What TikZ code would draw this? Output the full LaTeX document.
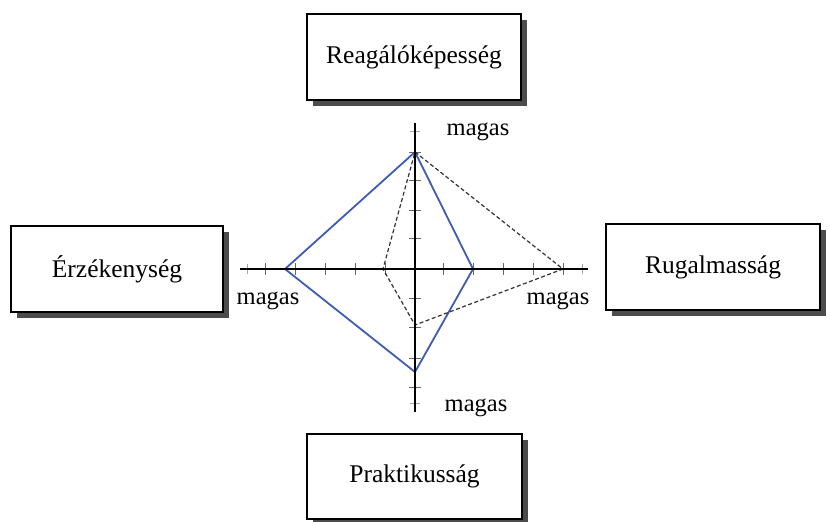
\documentclass[tikz,border=0pt]{standalone}
\usepackage{fontspec}
\setmainfont{Liberation Serif}
\usetikzlibrary{shadows}
\definecolor{profileblue}{RGB}{62,92,178}
\tikzset{
  labelbox/.style={draw=black, line width=1.3pt, fill=white, minimum width=214pt,
    minimum height=86pt, inner sep=0pt, font=\fontsize{25.5}{30}\selectfont,
    drop shadow={shadow xshift=6pt, shadow yshift=-6pt, fill=black!70, opacity=1}},
  axisline/.style={line width=2pt, black},
  tickmark/.style={line width=0.9pt, black!60},
  endtick/.style={line width=0.7pt, black!35},
  highlab/.style={font=\fontsize{24.5}{28}\selectfont, inner sep=0pt},
  bluepoly/.style={profileblue, line width=1.8pt, line join=miter},
  dashpoly/.style={black!80, line width=1.2pt, dashed, dash pattern=on 4pt off 2.5pt}
}
\begin{document}
\begin{tikzpicture}[x=1pt, y=-1pt]
\useasboundingbox[fill=white] (0,0) rectangle (830,522);

% the four dimension boxes
\node[labelbox] (top) at (414,57) {Reagálóképesség};
\node[labelbox, minimum width=212pt] (left) at (117,269) {Érzékenység};
\node[labelbox] (right) at (713,267) {Rugalmasság};
\node[labelbox, minimum width=215pt, minimum height=85pt] (bottom) at (414.5,476.5) {Praktikusság};

% axis end points and origin
\coordinate (o) at (415,269);
\coordinate (xl) at (240,269);
\coordinate (xr) at (588,269);
\coordinate (yt) at (415,123);
\coordinate (yb) at (415,412);

% tick marks on the horizontal axis
\foreach \x in {265,295,325,355,385,443,473,503,533,563}
  \draw[tickmark] (\x,263) -- (\x,275);
\foreach \x in {247,582}
  \draw[endtick] (\x,264) -- (\x,274);
% tick marks on the vertical axis
\foreach \y in {152,180,210,238,298,327,358,387}
  \draw[tickmark] (409,\y) -- (421,\y);
\foreach \y in {131,403}
  \draw[endtick] (410,\y) -- (420,\y);

% profiles
\coordinate (bt) at (415,152);
\coordinate (bl) at (285,269);
\coordinate (bb) at (415,372);
\coordinate (br) at (473,269);
\draw[bluepoly] (bt) -- (bl) -- (bb) -- (br) -- cycle;

\coordinate (dt) at (415,152);
\coordinate (dr) at (563,269);
\coordinate (db) at (415,325);
\coordinate (dl) at (383,269);
\draw[dashpoly] (dt) -- (dr) -- (db) -- (dl) -- cycle;

% axes
\draw[axisline] (xl) -- (xr);
\draw[axisline] (yt) -- (yb);

% axis labels
\node[highlab] (hightop) at (478,132) {magas};
\node[highlab] (highleft) at (268,301) {magas};
\node[highlab] (highright) at (558,301) {magas};
\node[highlab] (highbottom) at (476,408) {magas};
\end{tikzpicture}
\end{document}
